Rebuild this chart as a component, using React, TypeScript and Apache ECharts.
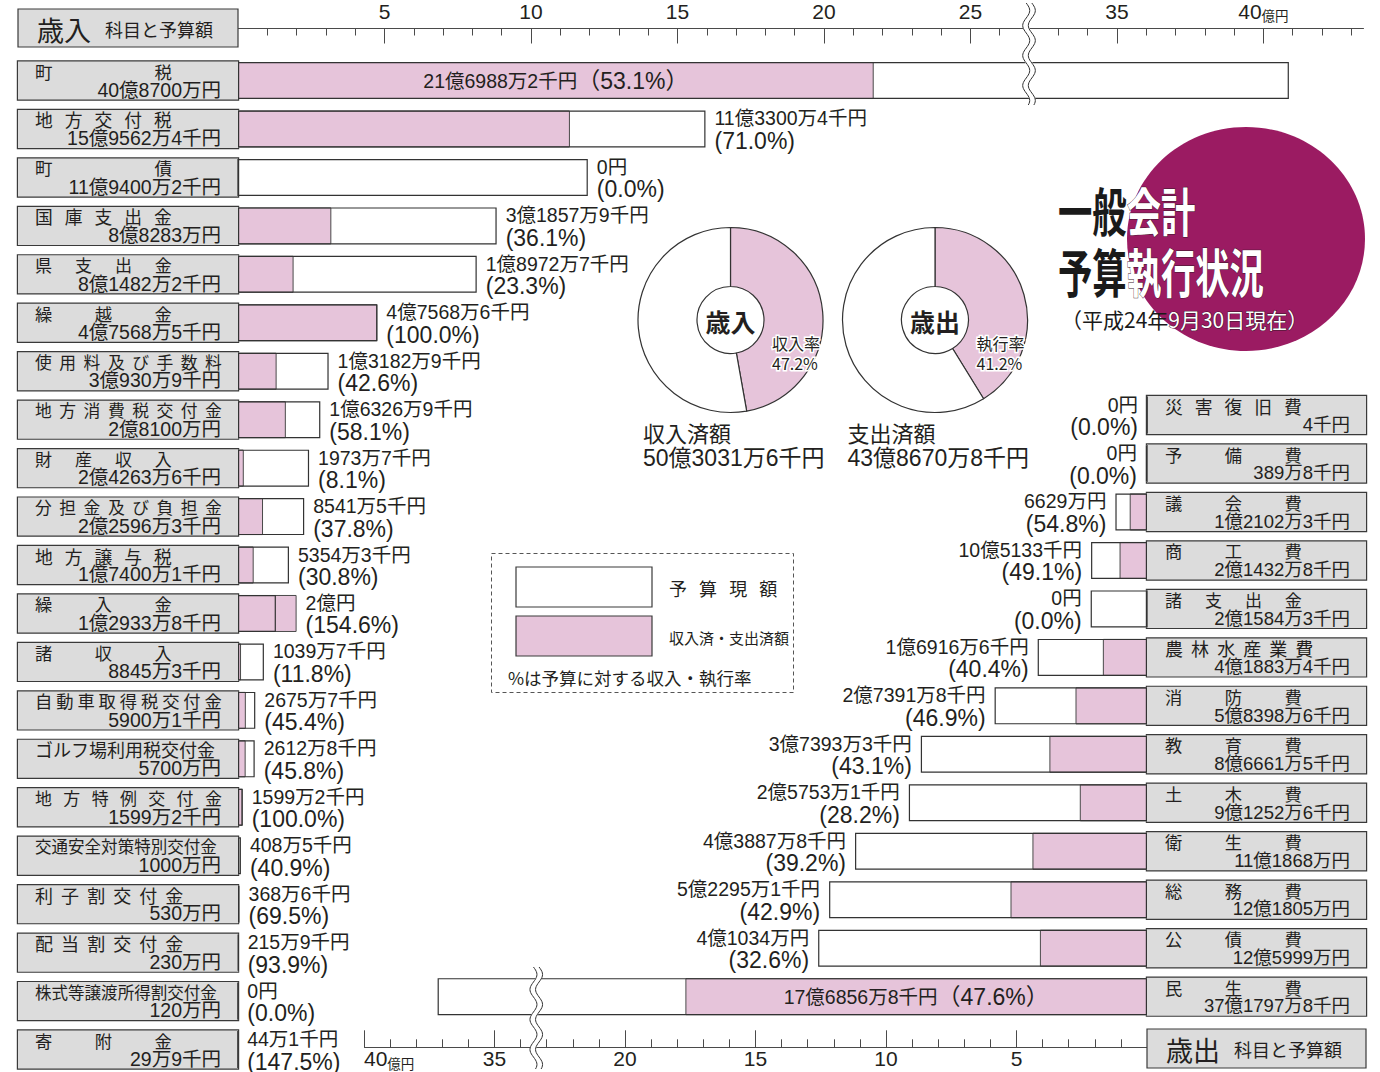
import React, { useEffect, useRef } from 'react';
import * as echarts from 'echarts';

// ---------------- data ----------------
const revNames = ['町税', '地方交付税', '町債', '国庫支出金', '県支出金', '繰越金', '使用料及び手数料', '地方消費税交付金', '財産収入', '分担金及び負担金', '地方譲与税', '繰入金', '諸収入', '自動車取得税交付金', 'ゴルフ場利用税交付金', '地方特例交付金', '交通安全対策特別交付金', '利子割交付金', '配当割交付金', '株式等譲渡所得割交付金', '寄附金'];
const revBudgetText = ['40億8700万円', '15億9562万4千円', '11億9400万2千円', '8億8283万円', '8億1482万2千円', '4億7568万5千円', '3億930万9千円', '2億8100万円', '2億4263万6千円', '2億2596万3千円', '1億7400万1千円', '1億2933万8千円', '8845万3千円', '5900万1千円', '5700万円', '1599万2千円', '1000万円', '530万円', '230万円', '120万円', '29万9千円'];
const revBudget = [40.87, 15.95624, 11.94002, 8.8283, 8.14822, 4.75685, 3.09309, 2.81, 2.42636, 2.25963, 1.74001, 1.29338, 0.88453, 0.59001, 0.57, 0.15992, 0.1, 0.053, 0.023, 0.012, 0.00299];
const revExecText = ['21億6988万2千円', '11億3300万4千円', '0円', '3億1857万9千円', '1億8972万7千円', '4億7568万6千円', '1億3182万9千円', '1億6326万9千円', '1973万7千円', '8541万5千円', '5354万3千円', '2億円', '1039万7千円', '2675万7千円', '2612万8千円', '1599万2千円', '408万5千円', '368万6千円', '215万9千円', '0円', '44万1千円'];
const revExec = [21.69882, 11.33004, 0, 3.18579, 1.89727, 4.75686, 1.31829, 1.63269, 0.19737, 0.85415, 0.53543, 2.0, 0.10397, 0.26757, 0.26128, 0.15992, 0.04085, 0.03686, 0.02159, 0, 0.00441];
const revRate = ['53.1', '71.0', '0.0', '36.1', '23.3', '100.0', '42.6', '58.1', '8.1', '37.8', '30.8', '154.6', '11.8', '45.4', '45.8', '100.0', '40.9', '69.5', '93.9', '0.0', '147.5'];

const expNames = ['災害復旧費', '予備費', '議会費', '商工費', '諸支出金', '農林水産業費', '消防費', '教育費', '土木費', '衛生費', '総務費', '公債費', '民生費'];
const expBudgetText = ['4千円', '389万8千円', '1億2102万3千円', '2億1432万8千円', '2億1584万3千円', '4億1883万4千円', '5億8398万6千円', '8億6661万5千円', '9億1252万6千円', '11億1868万円', '12億1805万円', '12億5999万円', '37億1797万8千円'];
const expBudget = [0.00004, 0.03898, 1.21023, 2.14328, 2.15843, 4.18834, 5.83986, 8.66615, 9.12526, 11.1868, 12.1805, 12.5999, 37.17978];
const expExecText = ['0円', '0円', '6629万円', '10億5133千円', '0円', '1億6916万6千円', '2億7391万8千円', '3億7393万3千円', '2億5753万1千円', '4億3887万8千円', '5億2295万1千円', '4億1034万円', '17億6856万8千円'];
const expExec = [0, 0, 0.6629, 1.05133, 0, 1.69166, 2.73918, 3.73933, 2.57531, 4.38878, 5.22951, 4.1034, 17.68568];
const expRate = ['0.0', '0.0', '54.8', '49.1', '0.0', '40.4', '46.9', '43.1', '28.2', '39.2', '42.9', '32.6', '47.6'];

const topTickLabels = [5, 10, 15, 20, 25, 35, 40];
const bottomTickLabels = [5, 10, 15, 20, 35, 40];
const revAxisMax = 43.4;
const expAxisMax = 40;
const revAxisBreak = [27, 32];
const expAxisBreak = [23.4, 33.4];

const totalRates = [47.2, 41.2];
const totalTitles = ['収入済額', '支出済額'];
const totalAmounts = ['50億3031万6千円', '43億8670万8千円'];
const pieCenterTitles = ['歳入', '歳出'];
const pieRateTitles = ['収入率', '執行率'];

// ---------------- style ----------------
const FONT = '"Noto Sans CJK JP", "Noto Sans", sans-serif';
const NUMFONT = '"Liberation Sans", "Noto Sans CJK JP", sans-serif';
const PINK = '#e6c4da';
const GRAY = '#dcdcdc';
const INK = '#231f20';
const EDGE = '#3a3a3a';
const NB = '\u00a0';

function fitName(name: string, W: number) {
  const ch = Array.from(name);
  const n = ch.length;
  let best = { k: 0, fs: 17, d: 1e9 };
  for (let k = 0; k <= 40; k++) {
    const denom = n + (n - 1) * k * 0.224;
    const fs = Math.min(18, W / denom);
    if (fs < 15) continue;
    const total = fs * denom;
    const d = Math.abs(fs - 17.3) + Math.abs(W - total) * 0.1;
    if (d < best.d) best = { k, fs, d };
  }
  return { text: ch.join(NB.repeat(best.k)), fs: best.fs };
}
const nameWidth = (n: number) => (n <= 5 ? 137 : n === 6 ? 150 : n >= 11 ? 182 : 187);

function boxAxis(names: string[], amounts: string[], side: 'left' | 'right', gridIndex: number, amountFs: number) {
  const fitted = names.map((nm) => fitName(nm, nameWidth(Array.from(nm).length)));
  const rich: any = { a: { fontSize: amountFs, lineHeight: 19.5, align: 'right', color: INK, fontFamily: NUMFONT } };
  fitted.forEach((f, i) => {
    rich['n' + i] = { fontSize: f.fs, lineHeight: 18, align: 'left', color: INK, fontFamily: FONT };
  });
  return {
    type: 'category', gridIndex, data: names, inverse: true, position: side,
    axisLine: { show: false }, axisTick: { show: false }, splitLine: { show: false },
    axisLabel: {
      interval: 0, margin: 0, align: side === 'left' ? 'right' : 'left', verticalAlign: 'middle',
      formatter: (_v: string, i: number) => `{n${i}|${fitted[i].text}}\n{a|${amounts[i]}}`,
      rich, backgroundColor: GRAY, borderColor: EDGE, borderWidth: 1.2,
      padding: side === 'left' ? [0.5, 17, 0, 17] : [0.5, 16, 0, 18],
      width: side === 'left' ? 186 : 185, height: 37.5,
    },
  };
}

const valRich = {
  v: { fontSize: 19.5, lineHeight: 21, color: INK, fontFamily: NUMFONT },
  q: { fontSize: 23, lineHeight: 24, color: INK, fontFamily: NUMFONT },
};
const axRich = {
  n: { fontSize: 21, lineHeight: 21, color: INK, fontFamily: NUMFONT, verticalAlign: 'bottom' },
  u: { fontSize: 13.5, lineHeight: 16, color: INK, fontFamily: FONT, verticalAlign: 'bottom' },
};
const tickFmt = (list: number[]) => (v: number) => {
  const r = Math.round(v * 1000) / 1000;
  if (!list.includes(r)) return '';
  return r === 40 ? '{n|40}{u|億円}' : `{n|${r}}`;
};

function valueAxes(gridIndex: number, pos: 'top' | 'bottom', offset: number, max: number, brk: number[], inverse: boolean, labels: number[], longLen: number, shortLen: number, labelMargin: number) {
  const base = {
    type: 'value', gridIndex, position: pos, offset, min: 0, max, inverse,
    breaks: [{ start: brk[0], end: brk[1], gap: 0 }],
    breakArea: { show: false, itemStyle: { color: 'none', borderColor: 'none', borderWidth: 0, opacity: 0 } },
    splitLine: { show: false },
  };
  const minor: number[] = [];
  for (let v = 1; v <= Math.floor(max); v++) if (v < brk[0] || v > brk[1]) minor.push(v);
  return [
    {
      ...base, interval: 5,
      axisLine: { show: true, onZero: false, lineStyle: { color: '#4a4a4a', width: 1 } },
      axisTick: { show: true, inside: true, length: longLen, customValues: labels, lineStyle: { color: '#4a4a4a', width: 1 } },
      axisLabel: { show: true, margin: labelMargin, customValues: labels, formatter: tickFmt(labels), rich: axRich, alignMaxLabel: inverse ? 'left' : undefined, hideOverlap: false },
    },
    {
      ...base, interval: 1,
      axisLine: { show: false, onZero: false },
      axisTick: { show: true, inside: true, length: shortLen, customValues: minor, lineStyle: { color: '#4a4a4a', width: 1 } },
      axisLabel: { show: false },
    },
  ];
}

function barSeries(xi: number, yi: number, budget: number[], exec: number[], execText: string[], rate: string[], insideRow: number, side: 'left' | 'right') {
  const common = { type: 'bar', xAxisIndex: xi, yAxisIndex: yi, barWidth: 37, barGap: '-100%', silent: true, animation: false };
  return [
    { ...common, name: '予算現額', data: budget, itemStyle: { color: '#ffffff' }, z: 1 },
    {
      ...common, name: '収入済・支出済額', z: 2,
      itemStyle: { color: PINK, borderColor: '#4a4a4a', borderWidth: 1 },
      label: { show: false, rich: valRich },
      data: exec.map((v, i) => i === insideRow ? {
        value: v,
        label: { show: true, position: 'inside', rich: valRich, formatter: () => `{v|${execText[i]}}{q|（${rate[i]}%）}` },
      } : v),
    },
    { ...common, name: 'outline', data: budget, itemStyle: { color: 'rgba(0,0,0,0)', borderColor: '#333', borderWidth: 1.2 }, z: 3 },
    {
      ...common, name: 'anchor', z: 4,
      data: budget.map((b, i) => Math.max(b, exec[i])),
      itemStyle: { color: 'rgba(0,0,0,0)' },
      label: {
        show: true, position: side === 'left' ? 'right' : 'left', distance: 9, offset: [0, 1.5], rich: valRich,
        formatter: (p: any) => p.dataIndex === insideRow ? '' : `{v|${execText[p.dataIndex]}}\n{q|(${rate[p.dataIndex]}%)}`,
      },
    },
  ];
}

function waveEls(x0: number, y0: number, y1: number) {
  const mk = (dx: number) => {
    const pts: number[][] = [];
    for (let y = y0; y <= y1; y += 1.5) pts.push([x0 + dx + 3.5 * Math.sin(((y - y0) / 30) * 2 * Math.PI), y]);
    return pts;
  };
  return [
    { type: 'polyline', shape: { points: mk(0) }, style: { stroke: '#ffffff', lineWidth: 6, fill: 'none' }, z: 100 },
    { type: 'polyline', shape: { points: mk(-2.8) }, style: { stroke: '#333', lineWidth: 1, fill: 'none' }, z: 101 },
    { type: 'polyline', shape: { points: mk(2.8) }, style: { stroke: '#333', lineWidth: 1, fill: 'none' }, z: 101 },
  ];
}

function txt(x: number, y: number, text: string, fontSize: number, extra: any = {}, el: any = {}) {
  return {
    type: 'text', x, y, z: 20, ...el,
    style: { text, fontSize, fontFamily: FONT, fill: INK, align: 'left', verticalAlign: 'middle', textAlign: 'left', textVerticalAlign: 'middle', ...extra },
  };
}

function graphics(lx: number, rx: number) {
  const g: any[] = [];
  const hdrRich = { b: { fontSize: 27, fontFamily: FONT, fill: INK }, s: { fontSize: 18, fontFamily: FONT, fill: INK, padding: [0, 0, 0, 14] } };
  g.push({ type: 'rect', shape: { x: 18, y: 9, width: 220, height: 38 }, style: { fill: GRAY, stroke: EDGE, lineWidth: 1.2 }, z: 10 });
  g.push(txt(37, 29, '{b|歳入}{s|科目と予算額}', 18, { rich: hdrRich }));
  g.push({ type: 'rect', shape: { x: 1147, y: 1029, width: 219, height: 39 }, style: { fill: GRAY, stroke: EDGE, lineWidth: 1.2 }, z: 10 });
  g.push(txt(1166, 1049, '{b|歳出}{s|科目と予算額}', 18, { rich: hdrRich }));
  // legend
  g.push({ type: 'rect', shape: { x: 491.5, y: 553.5, width: 302, height: 139 }, style: { fill: 'none', stroke: '#555', lineWidth: 1, lineDash: [4, 3] }, z: 10 });
  g.push({ type: 'rect', shape: { x: 516, y: 567, width: 136, height: 40 }, style: { fill: '#fff', stroke: EDGE, lineWidth: 1.2 }, z: 10 });
  g.push({ type: 'rect', shape: { x: 516, y: 616, width: 136, height: 40 }, style: { fill: PINK, stroke: EDGE, lineWidth: 1.2 }, z: 10 });
  g.push(txt(669, 588, Array.from('予算現額').join(NB.repeat(3)), 18));
  g.push(txt(669, 637, '収入済・支出済額', 15));
  g.push(txt(508, 677, '%は予算に対する収入・執行率', 17.5));
  // pie texts
  const pcx = [730.5, 935];
  pcx.forEach((cx, i) => {
    g.push(txt(cx, 321, pieCenterTitles[i], 25, { fontWeight: 'bold', align: 'center', textAlign: 'center' }));
    g.push(txt(cx + 41.5, 353, `${pieRateTitles[i]}\n${totalRates[i]}%`, 16, { lineHeight: 20, stroke: '#fff', lineWidth: 3, strokeFirst: true }));
    g.push(txt(cx - 87.5, 432, totalTitles[i], 22));
    g.push(txt(cx - 87.5, 458, totalAmounts[i], 23, { fontFamily: NUMFONT }));
  });
  // title
  g.push({ type: 'ellipse', shape: { cx: 1246, cy: 239, rx: 119, ry: 112 }, style: { fill: '#9b1b62' }, z: 5 });
  const tRich = (fs: number, w: string) => ({
    b: { fontSize: fs, fontWeight: w, fontFamily: FONT, fill: '#1a1a1a' },
    w: { fontSize: fs, fontWeight: w, fontFamily: FONT, fill: '#ffffff', stroke: '#3a1a2a', lineWidth: 1 },
  });
  g.push(txt(0, 0, '{b|一般}{w|会計}', 52, { rich: tRich(52, 'bold') }, { x: 1058, y: 210, scaleX: 0.66 }));
  g.push(txt(0, 0, '{b|予算}{w|執行状況}', 52, { rich: tRich(52, 'bold') }, { x: 1058, y: 271, scaleX: 0.66 }));
  g.push(txt(1061, 319, '{b|（平成24年}{w|9月30日現在）}', 21, { rich: tRich(21, 'normal') }));
  // axis breaks
  g.push(...waveEls(lx, 3, 106));
  g.push(...waveEls(rx, 967, 1069));
  return g;
}

function buildOption(lx: number, rx: number) {
  const leftAxes = valueAxes(0, 'top', 27.8, revAxisMax, revAxisBreak, false, topTickLabels, 15, 7, 7);
  const rightAxes = valueAxes(1, 'bottom', 26.4, expAxisMax, expAxisBreak, true, bottomTickLabels, 17, 8, 1);
  return {
    animation: false,
    textStyle: { fontFamily: FONT, color: INK },
    grid: [
      { left: 238, width: 1125, top: 56.3, height: 1017.45, outerBoundsMode: 'none', containLabel: false },
      { left: 364, width: 783, top: 390.8, height: 630.1, outerBoundsMode: 'none', containLabel: false },
    ],
    xAxis: [...leftAxes, ...rightAxes],
    yAxis: [
      boxAxis(revNames, revBudgetText, 'left', 0, 19.5),
      boxAxis(expNames, expBudgetText, 'right', 1, 18.5),
    ],
    series: [
      ...barSeries(0, 0, revBudget, revExec, revExecText, revRate, 0, 'left'),
      ...barSeries(2, 1, expBudget, expExec, expExecText, expRate, 12, 'right'),
      ...[0, 1].map((i) => ({
        type: 'pie', silent: true, animation: false, center: [i === 0 ? 730.5 : 935, 320], radius: [33.5, 92.5],
        startAngle: 90, clockwise: true, label: { show: false }, labelLine: { show: false },
        itemStyle: { borderColor: '#333', borderWidth: 1.2 },
        data: [
          { value: totalRates[i], name: pieRateTitles[i], itemStyle: { color: PINK } },
          { value: 100 - totalRates[i], name: 'rest', itemStyle: { color: '#ffffff' } },
        ],
      })),
    ],
    graphic: graphics(lx, rx),
  };
}

export default function App() {
  const ref = useRef<HTMLDivElement>(null);
  useEffect(() => {
    document.body.style.margin = '0';
    const chart = echarts.init(ref.current!, null, { renderer: 'svg' });
    chart.setOption(buildOption(1029, 536) as any);
    const px = (axis: number, v: number, fb: number) => {
      try {
        const r = chart.convertToPixel({ xAxisIndex: axis } as any, v) as any;
        return Number.isFinite(r) ? r : fb;
      } catch (e) {
        return fb;
      }
    };
    const lx = px(0, revAxisBreak[0], 1029);
    const rx = px(2, expAxisBreak[0], 536);
    chart.setOption(buildOption(lx, rx) as any, true);
    return () => chart.dispose();
  }, []);
  return <div ref={ref} style={{ width: 1380, height: 1072 }} />;
}
